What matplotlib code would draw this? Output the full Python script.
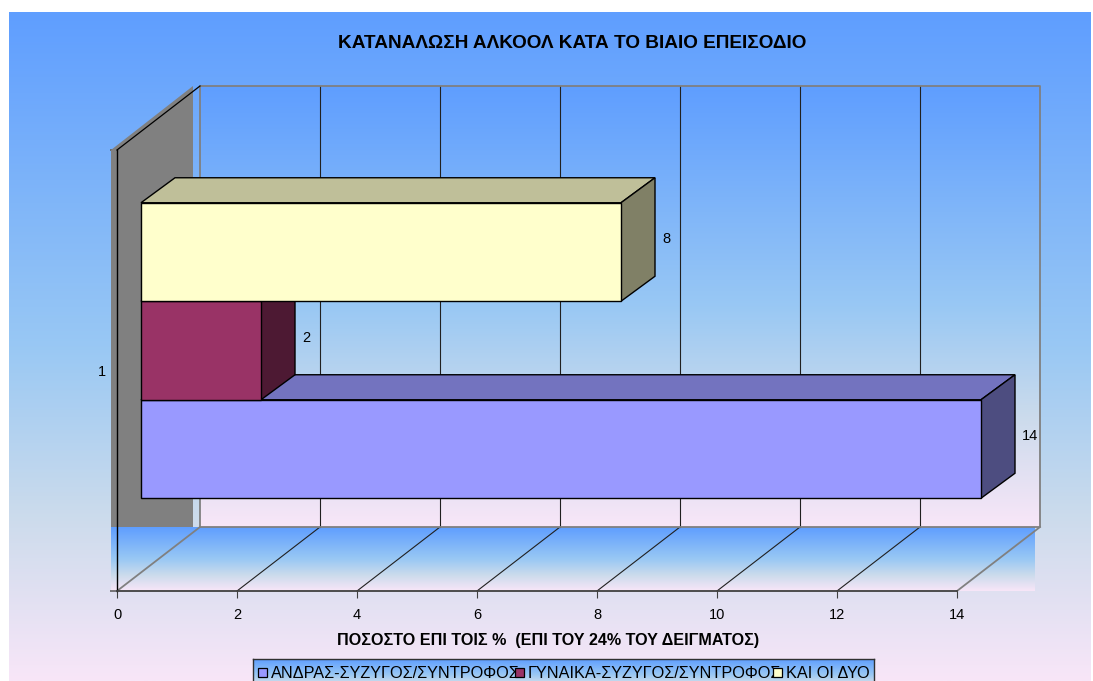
import numpy as np
import matplotlib
matplotlib.use("Agg")
import matplotlib.pyplot as plt
from matplotlib.colors import LinearSegmentedColormap
from matplotlib.patches import Polygon, Rectangle

title = "ΚΑΤΑΝΑΛΩΣΗ ΑΛΚΟΟΛ ΚΑΤΑ ΤΟ ΒΙΑΙΟ ΕΠΕΙΣΟΔΙΟ"
xlabel = "ΠΟΣΟΣΤΟ ΕΠΙ ΤΟΙΣ %  (ΕΠΙ ΤΟΥ 24% ΤΟΥ ΔΕΙΓΜΑΤΟΣ)"
series_names = ["ΑΝΔΡΑΣ-ΣΥΖΥΓΟΣ/ΣΥΝΤΡΟΦΟΣ", "ΓΥΝΑΙΚΑ-ΣΥΖΥΓΟΣ/ΣΥΝΤΡΟΦΟΣ", "ΚΑΙ ΟΙ ΔΥΟ"]
series_values = [14, 2, 8]
front_colors = ["#9999FF", "#993366", "#FFFFCC"]
top_colors = ["#7373BF", "#73264D", "#BFBF99"]
side_colors = ["#4D4D80", "#4D1933", "#808066"]
xticks = [0, 2, 4, 6, 8, 10, 12, 14]
category = 1

W, H = 1093, 681
plt.rcParams["font.family"] = ["Liberation Sans", "DejaVu Sans"]
grad_cmap = LinearSegmentedColormap.from_list(
    "bg", [(0, "#5F9EFF"), (0.5, "#99C8F4"), (0.75, "#CBDBEC"), (1, "#F8E6F8")])
ramp = np.linspace(0, 1, 256).reshape(-1, 1)

fig = plt.figure(figsize=(W / 100, H / 100), dpi=100, facecolor="white")


def px_axes(x0, y0, x1, y1, **kw):
    # axes from pixel box, y counted from top of the picture
    return fig.add_axes([x0 / W, 1 - y1 / H, (x1 - x0) / W, (y1 - y0) / H], **kw)


def px_text(x, y, s, **kw):
    return fig.text(x / W, 1 - y / H, s, va="center", **kw)


bg = px_axes(9, 12, W - 2, H, zorder=0)
bg.imshow(ramp, cmap=grad_cmap, aspect="auto")
bg.axis("off")

ax = px_axes(117, 150, 957, 591, zorder=1)
ax.patch.set_visible(False)
ymin, ymax = 0.5, 1.5
ux = 60.0   # px per value
uy = 441.0  # px per category

# depth offsets in data units
wall_dx, wall_dy = 83 / ux, 64 / uy
bar_dx0, bar_dy0 = 24 / ux, 20 / uy
bar_dx, bar_dy = 34 / ux, 25 / uy
left_x = -6 / ux
xmax = xticks[-1]

# floor
ax.imshow(ramp, cmap=grad_cmap, aspect="auto", clip_on=False, zorder=1,
          extent=[left_x, 1034 / ux - 117 / ux, ymin, ymin + wall_dy])
# back wall
ax.imshow(ramp, cmap=grad_cmap, aspect="auto", clip_on=False, zorder=1,
          extent=[wall_dx, xmax + wall_dx, ymin + wall_dy, ymax + wall_dy])
# side wall
ax.add_patch(Polygon([[left_x, ymin + wall_dy], [left_x, ymax],
                      [wall_dx - 7 / ux, ymax + wall_dy],
                      [wall_dx - 7 / ux, ymin + wall_dy]],
                     closed=True, fc="#808080", ec="none", clip_on=False, zorder=2))

# wall and floor grid
for v in xticks[1:-1]:
    ax.plot([v + wall_dx] * 2, [ymin + wall_dy, ymax + wall_dy], color="#202020", lw=0.8,
            clip_on=False, zorder=3)
    ax.plot([v, v + wall_dx], [ymin, ymin + wall_dy], color="#202020", lw=0.8, clip_on=False, zorder=3)
ax.plot([0, wall_dx, wall_dx, xmax + wall_dx, xmax + wall_dx, wall_dx],
        [ymin, ymin + wall_dy, ymax + wall_dy, ymax + wall_dy, ymin + wall_dy, ymin + wall_dy],
        color="#808080", lw=1.3, clip_on=False, zorder=3)
ax.plot([xmax, xmax + wall_dx], [ymin, ymin + wall_dy], color="#808080", lw=1.3, clip_on=False, zorder=3)
ax.plot([0, wall_dx], [ymax, ymax + wall_dy], color="black", lw=0.9, clip_on=False, zorder=4)

# bars, back ones drawn last so the stacking matches
bar_h = 98.5 / uy
for i, (val, fc, tc, sc) in enumerate(zip(series_values, front_colors, top_colors, side_colors)):
    y0 = category + (i - 1.5) * bar_h + bar_dy0
    y1 = y0 + bar_h
    x0 = bar_dx0
    x1 = val + bar_dx0
    z = 5 + i
    ax.add_patch(Polygon([[x0, y1], [x0 + bar_dx, y1 + bar_dy], [x1 + bar_dx, y1 + bar_dy], [x1, y1]],
                         closed=True, fc=tc, ec="black", lw=1.0, clip_on=False, zorder=z))
    ax.add_patch(Polygon([[x1, y0], [x1 + bar_dx, y0 + bar_dy], [x1 + bar_dx, y1 + bar_dy], [x1, y1]],
                         closed=True, fc=sc, ec="black", lw=1.0, clip_on=False, zorder=z))
    ax.barh(y0 + bar_h / 2, val, height=bar_h, left=x0, color=fc, edgecolor="black", linewidth=1.0,
            clip_on=False, zorder=z)
    ax.text(x1 + bar_dx + 7 / ux, y0 + bar_h / 2 + 13 / uy, str(val), fontsize=10.5,
            ha="left", va="center", color="black", clip_on=False, zorder=10)

ax.set_xlim(0, xmax)
ax.set_ylim(ymin, ymax)
ax.set_xticks(xticks)
ax.set_xticklabels([str(v) for v in xticks], fontsize=10.5)
ax.set_yticks([ymin, ymax])
ax.set_yticklabels([])
ax.set_yticks([category], labels=[str(category)], minor=True, fontsize=10.5)
ax.tick_params(axis="x", length=5, width=0.8, color="#404040", pad=7)
ax.tick_params(axis="y", which="major", length=5, width=1.2, color="#606060")
ax.tick_params(axis="y", which="minor", length=0, pad=8)
ax.spines["top"].set_visible(False)
ax.spines["right"].set_visible(False)
ax.spines["bottom"].set_color("#404040")
ax.spines["bottom"].set_linewidth(1.3)
ax.spines["left"].set_color("black")
ax.spines["left"].set_linewidth(1.0)
for sp in ax.spines.values():
    sp.set_zorder(4)

px_text(572, 43, title, fontsize=13.7, fontweight="bold", ha="center", zorder=5)
px_text(548.5, 641, xlabel, fontsize=11.6, fontweight="bold", ha="center", zorder=5)

# legend box runs off the bottom of the picture
leg = px_axes(253, 659, 874, 690, zorder=2)
leg.imshow(ramp, cmap=grad_cmap, aspect="auto")
leg.set_xticks([])
leg.set_yticks([])
for sp in leg.spines.values():
    sp.set_color("#303030")
    sp.set_linewidth(1.0)

leg_mark_x = [258, 515, 773]
leg_text_x = [271, 528, 786]
for name, fc, mx, tx in zip(series_names, front_colors, leg_mark_x, leg_text_x):
    fig.add_artist(Rectangle((mx / W, 1 - 677 / H), 9 / W, 9 / H, transform=fig.transFigure,
                             fc=fc, ec="black", lw=0.9, zorder=6))
    px_text(tx, 673, name, fontsize=11.7, ha="left", zorder=5)

fig.savefig("out.png", dpi=100)
